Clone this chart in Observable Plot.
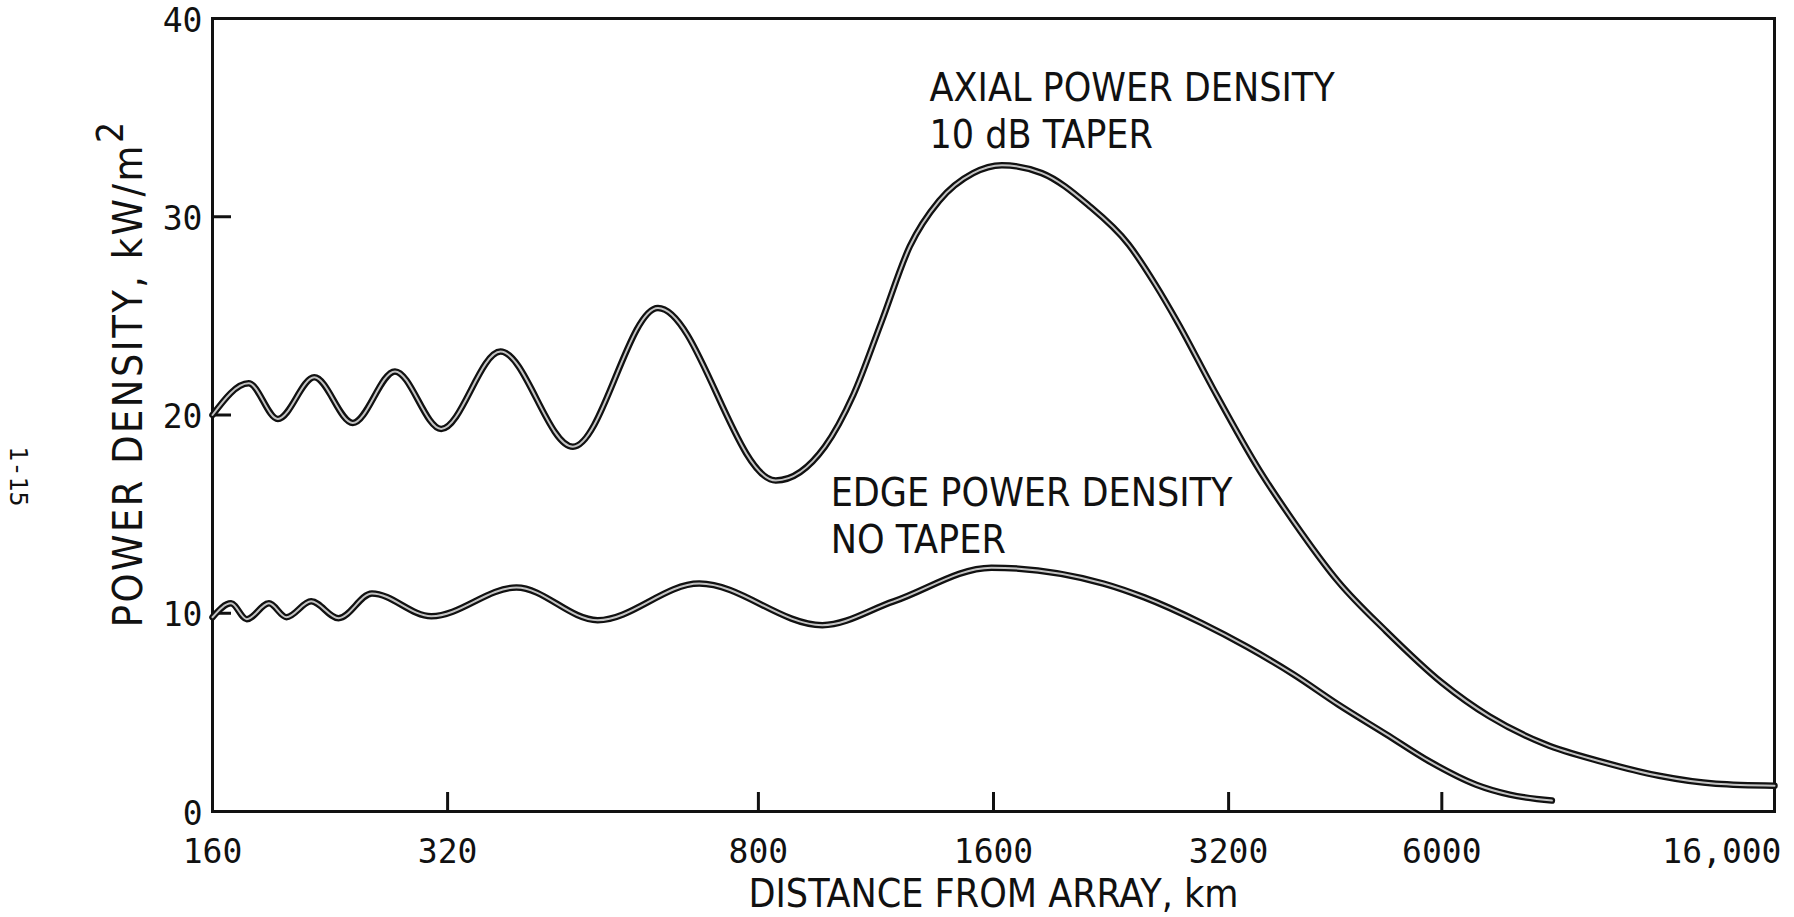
<!DOCTYPE html>
<html>
<head>
<meta charset="utf-8">
<script src="https://cdn.jsdelivr.net/npm/d3@7"></script>
<script src="https://cdn.jsdelivr.net/npm/@observablehq/plot@0.6"></script>
<style>
  html, body { margin: 0; padding: 0; background: #fff; }
  #chart { width: 1794px; height: 917px; }
</style>
</head>
<body>
<div id="chart"></div>
<script>
// ---- data ----
const axialDistance = [160, 178, 194, 216, 242, 274, 314, 374, 463, 595, 842, 973, 1058, 1150, 1250, 1363, 1507, 1640, 1845, 2114, 2383, 2577, 2760, 3060, 3506, 3880, 4420, 5090, 6000, 6900, 8130, 9630, 11380, 13460, 16000];
const axialPower    = [20.0, 21.6, 19.8, 21.9, 19.6, 22.2, 19.3, 23.2, 18.4, 25.4, 16.7, 18.4, 21.0, 24.7, 28.5, 30.8, 32.2, 32.6, 32.2, 30.6, 28.6, 26.6, 24.6, 21.3, 17.2, 14.6, 11.6, 9.1, 6.5, 4.8, 3.4, 2.5, 1.8, 1.4, 1.3];

const edgeDistance = [160, 169, 177, 189, 199, 214, 232, 256, 305, 392, 498, 672, 966, 1192, 1590, 2213, 2496, 2957, 3380, 3880, 4420, 5090, 5800, 6640, 7330, 8300];
const edgePower    = [9.8, 10.5, 9.7, 10.5, 9.8, 10.6, 9.75, 11.0, 9.85, 11.3, 9.65, 11.5, 9.4, 10.6, 12.3, 11.5, 10.8, 9.5, 8.3, 6.9, 5.4, 3.9, 2.5, 1.35, 0.85, 0.55];

const xTickValues = [160, 320, 800, 1600, 3200, 6000, 16000];
const xTickLabels = ["160", "320", "800", "1600", "3200", "6000", "16,000"];
const yTickValues = [0, 10, 20, 30, 40];

const xLabel = "DISTANCE FROM ARRAY, km";
const yLabel = "POWER DENSITY, kW/m²";
const pageNumber = "1-15";

const noteDistance = [1325, 990];
const notePower    = [35.4, 15.0];
const noteText     = ["AXIAL POWER DENSITY\n10 dB TAPER", "EDGE POWER DENSITY\nNO TAPER"];

// ---- tables built from the arrays ----
const axial = axialDistance.map((d, i) => ({d, p: axialPower[i]}));
const edge = edgeDistance.map((d, i) => ({d, p: edgePower[i]}));
const xTicks = xTickValues.map((v, i) => ({v, label: xTickLabels[i]}));
const notes = noteDistance.map((d, i) => ({d, p: notePower[i], text: noteText[i]}));

const ink = "#111";
const mono = "'DejaVu Sans Mono', monospace";
const narrow = "'DejaVu Sans Condensed', 'Liberation Sans Narrow', 'DejaVu Sans', sans-serif";

function curve(data) {
  return [
    Plot.line(data, {x: "d", y: "p", curve: "monotone-x", stroke: ink, strokeWidth: 6.5}),
    Plot.line(data, {x: "d", y: "p", curve: "monotone-x", stroke: "#c4c4c4", strokeWidth: 2})
  ];
}

const chart = Plot.plot({
  width: 1794,
  height: 917,
  marginLeft: 212,
  marginRight: 20,
  marginTop: 18,
  marginBottom: 106,
  style: {background: "#fff", color: ink, overflow: "visible"},
  x: {type: "log", domain: [160, 16000], axis: null},
  y: {domain: [0, 40], axis: null},
  marks: [
    Plot.frame({stroke: ink, strokeWidth: 3}),
    // inward tick marks
    Plot.tickX(xTicks.slice(1, -1), {x: "v", stroke: ink, strokeWidth: 3, insetTop: 774}),
    Plot.tickY(yTickValues.slice(1, -1), {y: d => d, stroke: ink, strokeWidth: 3, insetRight: 1543}),
    // tick labels
    Plot.text(xTicks.slice(0, -1), {x: "v", text: "label", frameAnchor: "bottom", lineAnchor: "middle", dy: 41, fontSize: 33, fontFamily: mono, fill: ink}),
    Plot.text(xTicks.slice(-1), {x: "v", text: "label", frameAnchor: "bottom", lineAnchor: "middle", dy: 41, dx: 7, textAnchor: "end", fontSize: 33, fontFamily: mono, fill: ink}),
    Plot.text(yTickValues, {y: d => d, text: d => String(d), frameAnchor: "left", lineAnchor: "middle", dx: -10, dy: 2.5, textAnchor: "end", fontSize: 33, fontFamily: mono, fill: ink}),
    // axis labels
    Plot.text([xLabel], {text: d => d, frameAnchor: "bottom", lineAnchor: "middle", textAnchor: "middle", dy: 83.5, fontSize: 39, fontFamily: narrow, fill: ink}),
    Plot.text([yLabel], {y: 22.1, text: d => d, frameAnchor: "left", lineAnchor: "middle", textAnchor: "middle", dx: -84, rotate: -90, fontSize: 41, fontFamily: narrow, fill: ink}),
    Plot.text([pageNumber], {y: 16.9, text: d => d, frameAnchor: "left", lineAnchor: "middle", textAnchor: "middle", dx: -195, rotate: 90, fontSize: 25, fontFamily: mono, fill: ink}),
    // curves
    ...curve(axial),
    ...curve(edge),
    // annotations
    Plot.text(notes, {x: "d", y: "p", text: "text", textAnchor: "start", lineAnchor: "middle", lineHeight: 1.2, fontSize: 39, fontFamily: narrow, fill: ink})
  ]
});

// superscript for m², slightly wider spacing as in the reference
d3.select(chart).selectAll("text").each(function() {
  const t = d3.select(this);
  if (t.text() === yLabel) {
    t.text("POWER DENSITY, kW/m").attr("letter-spacing", "2.5px");
    t.append("tspan").attr("dy", "-0.5em").attr("font-size", "0.9em").text("2");
  }
});

document.getElementById("chart").appendChild(chart);
</script>
</body>
</html>
